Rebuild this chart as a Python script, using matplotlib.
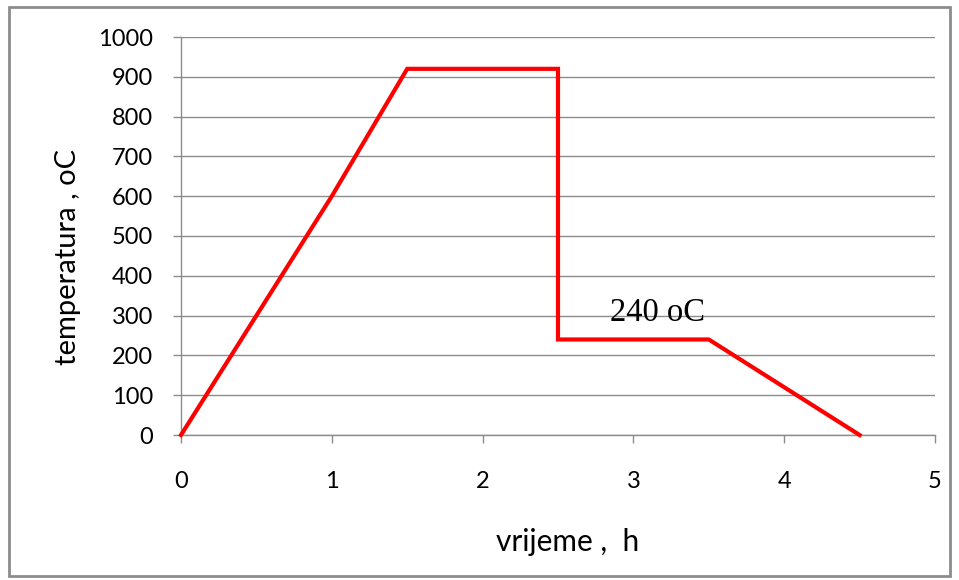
import matplotlib
matplotlib.use("Agg")
import matplotlib.pyplot as plt
from matplotlib.patches import Rectangle

time_h = [0, 1, 1.5, 2.5, 2.5, 3.5, 4.5]
temp_c = [0, 600, 920, 920, 240, 240, 0]
x_ticks = [0, 1, 2, 3, 4, 5]
y_ticks = [0, 100, 200, 300, 400, 500, 600, 700, 800, 900, 1000]
annot_text = "240 oC"
annot_pos = (3.16, 306)

fig = plt.figure(figsize=(9.59, 5.80), dpi=100)
ax = fig.add_axes([181/959, 1-435/580, (935-181)/959, (435-37)/580])

ax.plot(time_h, temp_c, color="#ff0000", lw=3.0, solid_joinstyle="miter", zorder=3, clip_on=False)
ax.set_xlim(0, 5)
ax.set_ylim(0, 1000)
ax.set_xticks(x_ticks)
ax.set_yticks(y_ticks)
ax.grid(axis="y", color="#8c8c8c", lw=1.0)
ax.set_axisbelow(True)
for s in ["top", "right"]:
    ax.spines[s].set_visible(False)
for s in ["left", "bottom"]:
    ax.spines[s].set_color("#8c8c8c")
    ax.spines[s].set_linewidth(1.0)
ax.tick_params(axis="both", direction="out", length=6, width=1.0, color="#8c8c8c",
               labelsize=17, labelcolor="#000000")
ax.tick_params(axis="x", pad=20)
ax.tick_params(axis="y", pad=14)
for lbl in ax.get_xticklabels() + ax.get_yticklabels():
    lbl.set_family("Lato")

ax.text(annot_pos[0], annot_pos[1], annot_text, family="Liberation Serif", fontsize=23.5,
        ha="center", va="center", color="#000000")

fig.text(68/959, 1-257/580, "temperatura , oC", rotation=90, ha="center", va="center",
         family="Lato", fontsize=21)
fig.text(568/959, 1-542/580, "vrijeme ,  h", ha="center", va="center",
         family="Lato", fontsize=21.5)

fig.patches.append(Rectangle((9/959, 1-576/580), (950-9)/959, (576-7)/580,
                             transform=fig.transFigure, fill=False, edgecolor="#8c8c8c", lw=2))

fig.savefig("out.png", dpi=100)
